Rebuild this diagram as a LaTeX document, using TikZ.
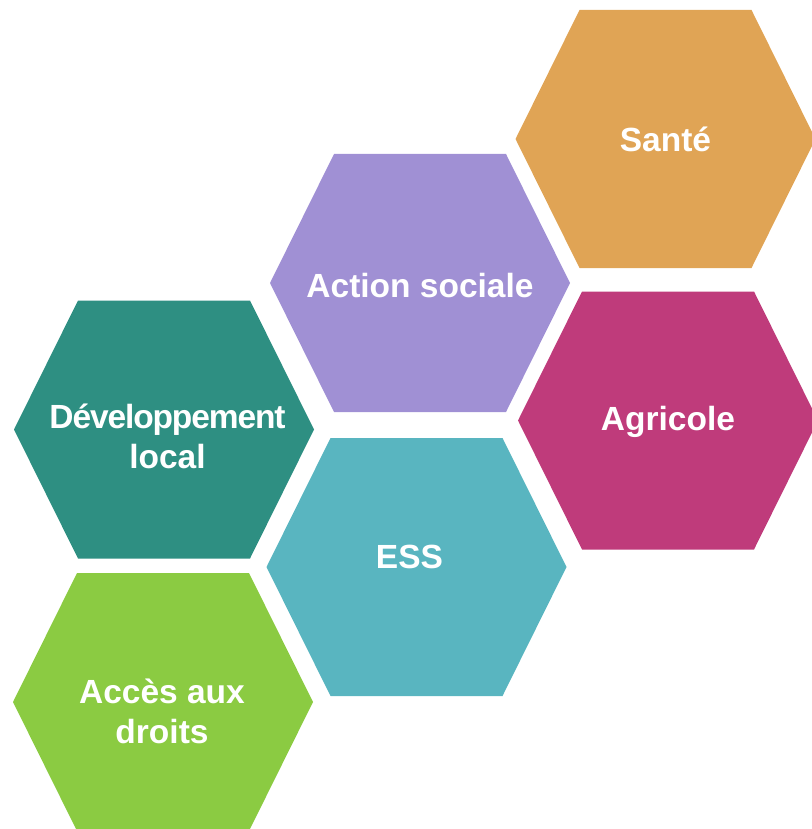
\documentclass[tikz,border=0pt]{standalone}
\usepackage{fontspec}
\setmainfont{Liberation Sans}
\definecolor{csante}{HTML}{E0A455}
\definecolor{caction}{HTML}{A090D4}
\definecolor{cdev}{HTML}{2E8F82}
\definecolor{cagri}{HTML}{BF3B7B}
\definecolor{cess}{HTML}{59B5C0}
\definecolor{cacces}{HTML}{8BCB42}
\tikzset{
  hexlabel/.style={text=white, font=\fontsize{33.5}{40}\selectfont\bfseries, align=center, inner sep=0pt, anchor=base},
}
\newcommand{\hexfill}[3]{\fill[#1] (#2,#3) ++(-150,0) -- ++(64,-129) -- ++(172,0) -- ++(64,129) -- ++(-64,129) -- ++(-172,0) -- cycle;}
\begin{document}
\begin{tikzpicture}[x=1pt,y=-1pt]
\useasboundingbox (0,0) rectangle (811,829);
\hexfill{csante}{665.5}{139}
\hexfill{caction}{420}{283}
\hexfill{cdev}{164}{429.5}
\hexfill{cagri}{668}{420.5}
\hexfill{cess}{416.5}{567}
\hexfill{cacces}{163}{702}
\node[hexlabel] (sante) at (665.5,152) {Santé};
\node[hexlabel] (action) at (420,297) {Action sociale};
\node[hexlabel] (agri) at (668,430) {Agricole};
\node[hexlabel] (ess) at (409.5,568) {ESS};
\node[hexlabel] (dev) at (167.5,468) {{\addfontfeature{LetterSpace=-3.3}Développement}\\local};
\node[hexlabel] (acces) at (162,743) {Accès aux\\droits};
\end{tikzpicture}
\end{document}
